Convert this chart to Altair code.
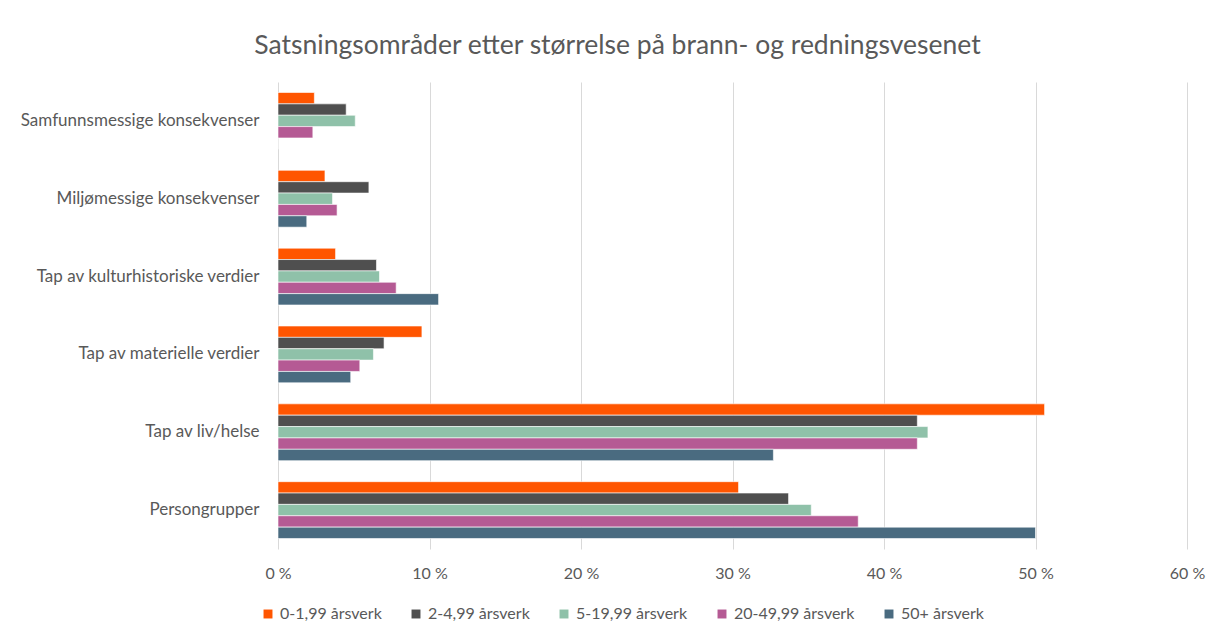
import altair as alt
import pandas as pd

categories = [
    "Samfunnsmessige konsekvenser",
    "Miljømessige konsekvenser",
    "Tap av kulturhistoriske verdier",
    "Tap av materielle verdier",
    "Tap av liv/helse",
    "Persongrupper",
]
series = ["0-1,99 årsverk", "2-4,99 årsverk", "5-19,99 årsverk", "20-49,99 årsverk", "50+ årsverk"]
colors = ["#FF5500", "#4F4F4F", "#8FC1A9", "#B55A94", "#4A6B80"]

v_0_1 = [2.4, 3.1, 3.8, 9.5, 50.6, 30.4]
v_2_4 = [4.5, 6.0, 6.5, 7.0, 42.2, 33.7]
v_5_19 = [5.1, 3.6, 6.7, 6.3, 42.9, 35.2]
v_20_49 = [2.3, 3.9, 7.8, 5.4, 42.2, 38.3]
v_50 = [0.0, 1.9, 10.6, 4.8, 32.7, 50.0]

rows = []
for s, vals in zip(series, [v_0_1, v_2_4, v_5_19, v_20_49, v_50]):
    for c, v in zip(categories, vals):
        rows.append({"kategori": c, "gruppe": s, "andel": v / 100})
df = pd.DataFrame(rows)

FONT = "Lato"
GREY = "#595959"

chart = alt.Chart(df).mark_bar(stroke="white", strokeWidth=0.6).encode(
    x=alt.X("andel:Q",
            scale=alt.Scale(domain=[0, 0.6], nice=False),
            axis=alt.Axis(values=[0, 0.1, 0.2, 0.3, 0.4, 0.5, 0.6],
                          labelExpr="format(datum.value*100, '.0f') + ' %'",
                          title=None, domain=False, ticks=False, labelFlush=False,
                          grid=True, gridColor="#D9D9D9", gridWidth=1,
                          labelColor=GREY, labelFontSize=16, labelFont=FONT,
                          labelPadding=16)),
    y=alt.Y("kategori:N", sort=categories,
            scale=alt.Scale(paddingInner=0.27, paddingOuter=0.135),
            axis=alt.Axis(title=None, domain=False, ticks=False,
                          labelColor=GREY, labelFontSize=17, labelFont=FONT,
                          labelPadding=19, labelLimit=300)),
    yOffset=alt.YOffset("gruppe:N", sort=series),
    color=alt.Color("gruppe:N", sort=series,
                    scale=alt.Scale(domain=series, range=colors),
                    legend=alt.Legend(title=None, orient="none", direction="horizontal",
                                      columns=5, legendX=-18, legendY=524,
                                      symbolType="square", symbolSize=80,
                                      symbolStrokeWidth=0,
                                      labelFont=FONT, labelFontSize=16, labelColor=GREY,
                                      columnPadding=26, labelOffset=4)),
).properties(
    width=909,
    height=467,
    title=alt.TitleParams("Satsningsområder etter størrelse på brann- og redningsvesenet",
                          font=FONT, fontSize=26.5, fontWeight="normal", color=GREY,
                          anchor="middle", dx=-115, offset=23),
    autosize=alt.AutoSizeParams(type="none"),
    padding={"left": 270, "top": 74, "right": 30, "bottom": 80},
).configure(background="white").configure_view(strokeWidth=0, stroke="transparent")

chart.save("out.html", embed_options={"renderer": "svg", "actions": False})
